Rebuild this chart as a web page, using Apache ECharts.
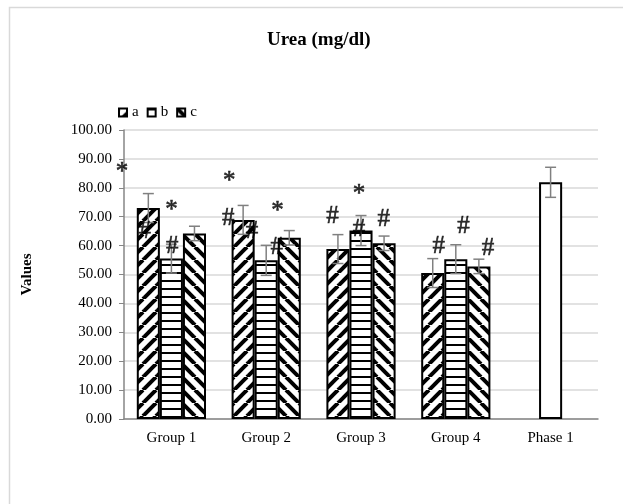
<!DOCTYPE html>
<html>
<head>
<meta charset="utf-8">
<script src="https://cdn.jsdelivr.net/npm/echarts@6/dist/echarts.min.js"></script>
<style>
  html, body { margin: 0; padding: 0; background: #fff; }
  #main { width: 623px; height: 504px; }
</style>
</head>
<body>
<div id="main"></div>
<script>
// data
var categories = ["Group 1", "Group 2", "Group 3", "Group 4", "Phase 1"];
var seriesNames = ["a", "b", "c"];
var valuesA = [73.0, 68.9, 58.8, 50.5, null];
var valuesB = [55.5, 54.9, 65.2, 55.3, 81.9];
var valuesC = [64.2, 62.7, 60.8, 52.8, null];
var errA = [5.0, 5.0, 5.0, 5.0, null];
var errB = [5.0, 5.2, 5.2, 5.0, 5.2];
var errC = [2.5, 2.5, 2.5, 2.5, null];
var yTicks = [0, 10, 20, 30, 40, 50, 60, 70, 80, 90, 100];
// significance marks: [x in category units (0..5), y value, symbol]
var marks = [
  [-0.02, 87.0, "*"], [0.22, 65.0, "#"], [0.50, 74.0, "*"], [0.51, 59.6, "#"],
  [1.11, 84.0, "*"], [1.10, 69.5, "#"], [1.35, 65.0, "#"], [1.62, 73.4, "*"], [1.61, 59.2, "#"],
  [2.20, 70.0, "#"], [2.48, 79.5, "*"], [2.48, 65.6, "#"], [2.74, 68.9, "#"],
  [3.32, 59.6, "#"], [3.58, 66.5, "#"], [3.84, 59.0, "#"]
];

var FONT = "Liberation Serif";
var catGap = 0.27;

// hatch fills
function makePattern(kind) {
  var s = kind === "h" ? 8 : 13;
  var cv = document.createElement("canvas");
  cv.width = s; cv.height = s;
  var ctx = cv.getContext("2d");
  ctx.fillStyle = "#fff";
  ctx.fillRect(0, 0, s, s);
  ctx.strokeStyle = "#000";
  if (kind === "h") {
    ctx.fillStyle = "#000";
    ctx.fillRect(0, 0, s, 2);
  } else {
    ctx.lineWidth = 4;
    for (var k = -1; k <= 1; k++) {
      ctx.beginPath();
      if (kind === "up") {
        ctx.moveTo(k * s, s); ctx.lineTo(k * s + s, 0);
      } else {
        ctx.moveTo(k * s, 0); ctx.lineTo(k * s + s, s);
      }
      ctx.stroke();
    }
  }
  return { image: cv, repeat: "repeat" };
}
var fills = [makePattern("up"), makePattern("h"), makePattern("down")];
var values = [valuesA, valuesB, valuesC];
var errs = [errA, errB, errC];

var myChart = echarts.init(document.getElementById("main"));

var series = [];
values.forEach(function (vals, k) {
  series.push({
    name: seriesNames[k],
    type: "bar",
    barGap: "0%",
    barCategoryGap: (catGap * 100) + "%",
    data: vals.map(function (v, i) {
      if (v === null) return "-";
      // the Phase 1 bar is drawn plain white
      if (i === 4) return { value: v, itemStyle: { color: "#fff" } };
      return v;
    }),
    itemStyle: { color: fills[k], borderColor: "#000", borderWidth: 2 },
    z: 2
  });
});

// error bars
values.forEach(function (vals, k) {
  var d = [];
  vals.forEach(function (v, i) {
    if (v !== null) d.push([i, v, errs[k][i]]);
  });
  series.push({
    type: "custom",
    name: "err" + k,
    z: 5,
    data: d,
    renderItem: function (params, api) {
      var i = api.value(0), v = api.value(1), e = api.value(2);
      var band = api.size([1, 0])[0];
      var bw = band * (1 - catGap) / 3;
      var c = api.coord([i, v]);
      var x = c[0] + (k - 1) * bw;
      var top = api.coord([i, v + e])[1];
      var bot = api.coord([i, v - e])[1];
      var st = { stroke: "#808080", lineWidth: 1.5 };
      return {
        type: "group",
        children: [
          { type: "line", shape: { x1: x, y1: top, x2: x, y2: bot }, style: st },
          { type: "line", shape: { x1: x - 5.5, y1: top, x2: x + 5.5, y2: top }, style: st },
          { type: "line", shape: { x1: x - 5.5, y1: bot, x2: x + 5.5, y2: bot }, style: st }
        ]
      };
    }
  });
});

// significance marks
var markLabel = {
  show: true,
  position: "inside",
  formatter: "{b}",
  color: "#000",
  fontFamily: FONT,
  fontSize: 25,
  textBorderColor: "#000",
  textBorderWidth: 0.6
};
series.push({
  type: "scatter",
  name: "marks",
  xAxisIndex: 1,
  symbolSize: 1,
  itemStyle: { color: "rgba(0,0,0,0)" },
  clip: false,
  silent: true,
  z: 10,
  data: marks.map(function (m) {
    return {
      value: [m[0], m[1]],
      name: m[2],
      label: Object.assign({}, markLabel, { offset: m[2] === "*" ? [0, 5] : [0, 0] })
    };
  }),
  label: markLabel
});

var option = {
  backgroundColor: "#fff",
  animation: false,
  title: {
    text: "Urea (mg/dl)",
    left: 262,
    top: 26,
    textStyle: { fontFamily: FONT, fontSize: 19, fontWeight: "bold", color: "#000" }
  },
  legend: {
    data: seriesNames,
    left: 113,
    top: 100,
    itemWidth: 8,
    itemHeight: 8,
    itemGap: 8,
    icon: "rect",
    textStyle: { fontFamily: FONT, fontSize: 15, color: "#000" }
  },
  grid: { left: 124, right: 25, top: 130, bottom: 85, containLabel: false },
  xAxis: [
    {
      type: "category",
      data: categories,
      axisLine: { lineStyle: { color: "#868686", width: 1.5 } },
      axisTick: { show: false },
      axisLabel: { fontFamily: FONT, fontSize: 15, color: "#000", margin: 12 }
    },
    { type: "value", min: 0, max: 5, show: false }
  ],
  yAxis: {
    type: "value",
    min: yTicks[0],
    max: yTicks[yTicks.length - 1],
    interval: 10,
    name: "Values",
    nameLocation: "middle",
    nameGap: 89,
    nameTextStyle: { fontFamily: FONT, fontSize: 15, fontWeight: "bold", color: "#000" },
    axisLine: { show: true, lineStyle: { color: "#868686", width: 1.5 } },
    axisTick: { show: true, length: 5, lineStyle: { color: "#868686" } },
    splitLine: { lineStyle: { color: "#d9d9d9", width: 1.5 } },
    axisLabel: {
      fontFamily: FONT, fontSize: 15, color: "#000", margin: 12,
      formatter: function (v) { return v.toFixed(2); }
    }
  },
  graphic: [
    {
      type: "rect",
      left: 7, top: 5,
      shape: { width: 700, height: 600 },
      style: { fill: "none", stroke: "#d9d9d9", lineWidth: 1.5 },
      silent: true
    }
  ],
  series: series
};

myChart.setOption(option);
</script>
</body>
</html>
